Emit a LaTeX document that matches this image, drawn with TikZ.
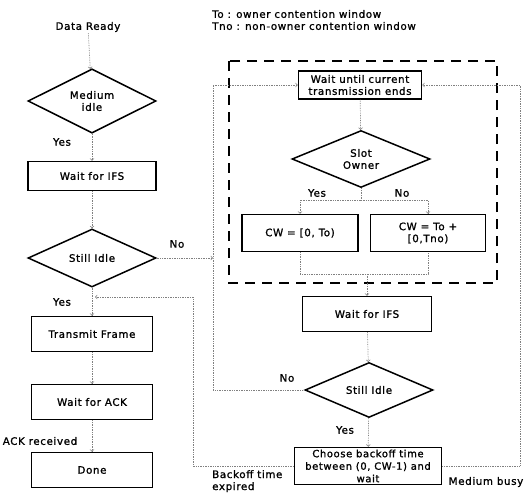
\documentclass[tikz,border=0pt]{standalone}
\usepackage{fontspec}
\setmainfont{DejaVu Sans}[LetterSpace=6, FakeBold=1.2]
\usetikzlibrary{shapes.geometric}

\tikzset{
  txt/.style={font=\fontsize{10.3}{12}\selectfont, inner sep=1pt},
  box/.style={txt, draw, line width=1.5pt, minimum width=121pt, minimum height=35pt},
  dec/.style={txt, draw, diamond, line width=1.5pt, minimum width=128pt, inner sep=0pt},
  flow/.style={->, gray, densely dotted, line width=0.7pt},
  link/.style={gray, densely dotted, line width=0.7pt},
  group/.style={line width=2.2pt, dash pattern=on 10pt off 7pt}
}

\begin{document}
\begin{tikzpicture}[x=1pt, y=-1pt]
\useasboundingbox (0,0) rectangle (526,492);

\node[txt] (ready) at (88,27) {Data Ready};
\node[dec, minimum height=56pt, align=center] (midle) at (92,101) {Medium\\idle};
\node[box, minimum width=128pt, minimum height=29pt] (ifs1) at (92,176) {Wait for IFS};
\node[dec, minimum height=58pt] (still1) at (92,258) {Still Idle};
\node[box] (tx) at (92,334) {Transmit Frame};
\node[box] (ack) at (92,402) {Wait for ACK};
\node[box] (done) at (92,470) {Done};

\node[txt, anchor=west] (leg1) at (211,14) {To : owner contention window};
\node[txt, anchor=west] (leg2) at (211,26) {Tno : non-owner contention window};
\draw[group] (229,61) rectangle (497,283);
\node[box, minimum width=123pt, minimum height=28pt, align=center] (wend) at (360,85) {Wait until current\\transmission ends};
\node[dec, minimum width=138pt, minimum height=57pt, align=center] (slot) at (361,159) {Slot\\Owner};
\node[box, minimum width=116pt, minimum height=37pt] (cwo) at (300,233) {CW = [0, To)};
\node[box, minimum width=115pt, minimum height=37pt, align=center] (cwn) at (428,233) {CW = To +\\{}[0,Tno)};
\node[box, minimum width=129pt] (ifs2) at (367,314) {Wait for IFS};
\node[dec, minimum height=55pt] (still2) at (369,390) {Still Idle};
\node[box, minimum width=147pt, minimum height=37pt, align=center, font=\fontsize{10}{12.5}\selectfont] (boff) at (368,466) {Choose backoff time\\between (0, CW-1) and\\wait};

\coordinate (nohit) at (213,258);
\coordinate (split) at (361,200);
\coordinate (merge) at (367,274);
\coordinate (bkx) at (193,297);
\coordinate (bkin) at (95,297);
\coordinate (busy) at (520,300);

\draw[flow] (ready) -- (midle);
\draw[flow] (midle) -- (ifs1);
\draw[flow] (ifs1) -- (still1);
\draw[flow] (still1) -- (tx);
\draw[flow] (tx) -- (ack);
\draw[flow] (ack) -- (done);
\draw[flow] (still1.east) -- (nohit);
\draw[flow] (still2.west) -| (nohit) |- (wend.west);
\draw[flow] (wend) -- (slot);
\draw[link] (slot.south) -- (split);
\draw[flow] (split) -| (cwo.north);
\draw[flow] (split) -| (cwn.north);
\draw[link] (cwo.south) |- (merge) -| (cwn.south);
\draw[flow] (merge) -- (ifs2.north);
\draw[flow] (ifs2) -- (still2);
\draw[flow] (still2) -- (boff);
\draw[flow] (boff.west) -| (bkx) -- (bkin);
\draw[flow] (boff.east) -| (busy) |- (wend.east);

\node[txt] (yes1) at (62,142) {Yes};
\node[txt] (no1) at (177,244) {No};
\node[txt] (yes2) at (62,302) {Yes};
\node[txt] (ackok) at (40,441) {ACK received};
\node[txt] (yes3) at (317,193) {Yes};
\node[txt] (no3) at (402,193) {No};
\node[txt] (no2) at (287,378) {No};
\node[txt] (yes4) at (345,430) {Yes};
\node[txt, align=left, anchor=north west] (bkexp) at (211,469) {Backoff time\\expired};
\node[txt] (mbusy) at (486,482) {Medium busy};

\end{tikzpicture}
\end{document}
